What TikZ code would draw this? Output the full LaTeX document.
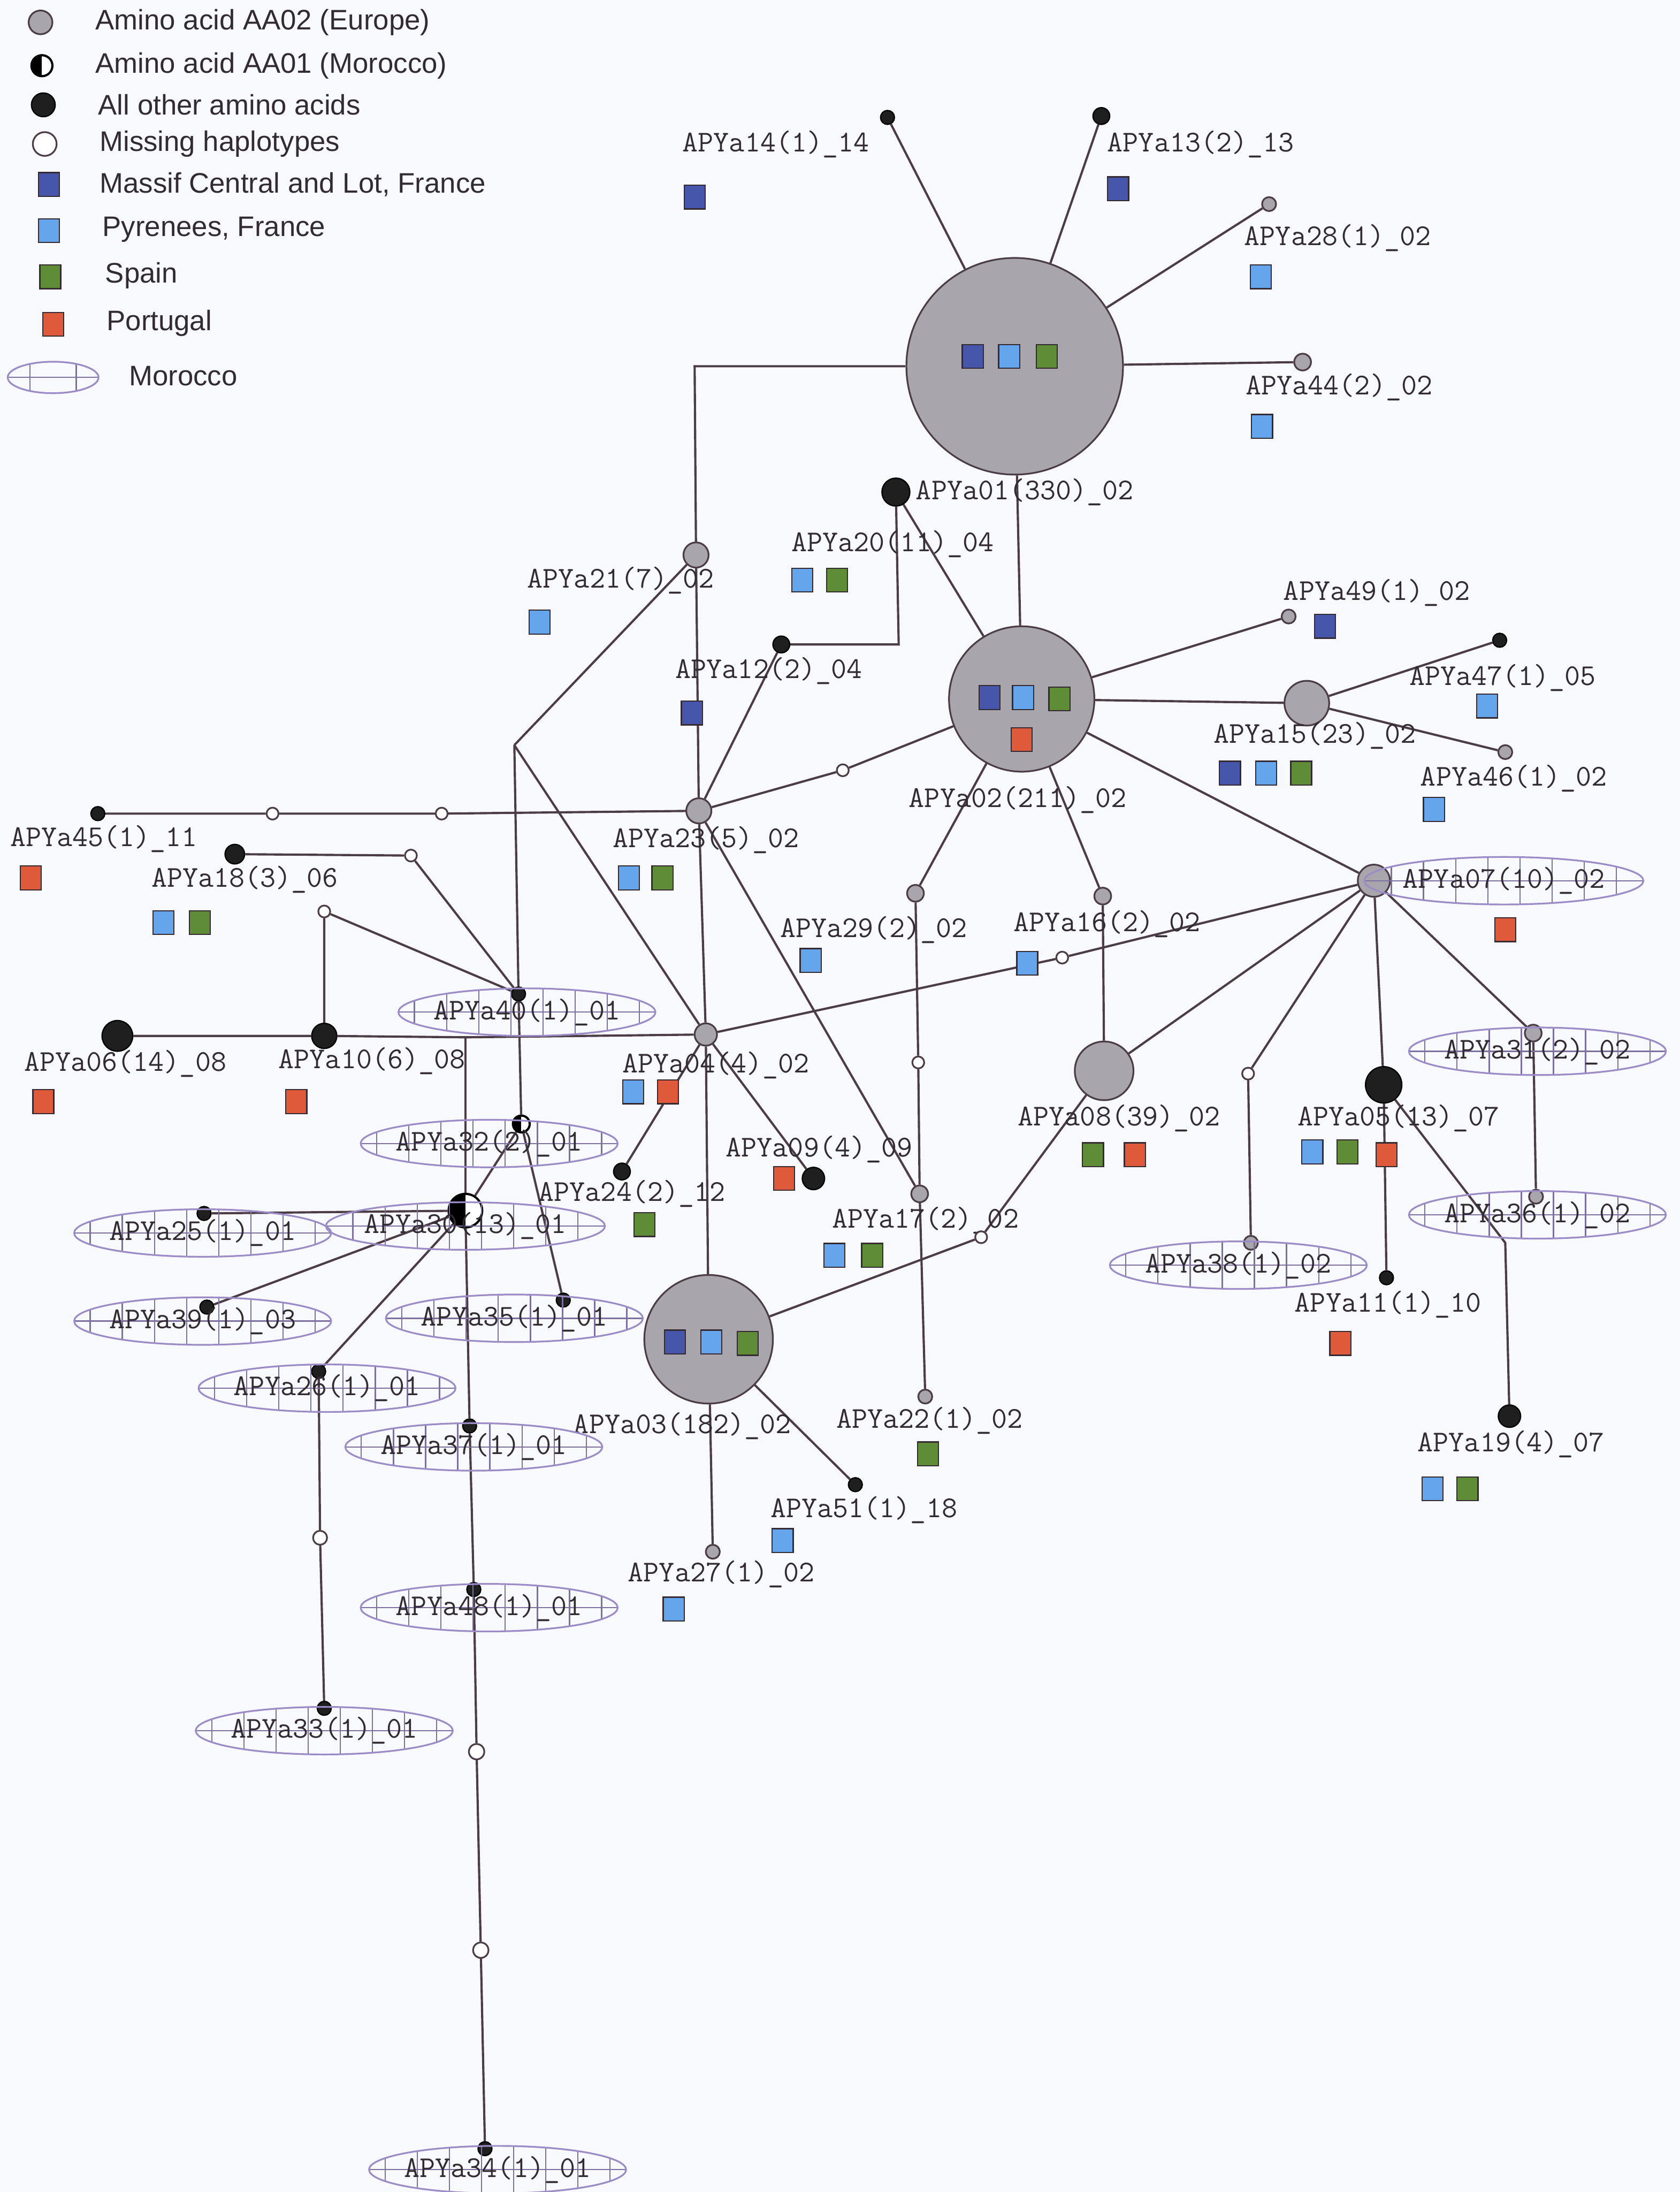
\documentclass[tikz,border=0pt]{standalone}
\usepackage{fontspec}
\setmainfont{Liberation Sans}
\usetikzlibrary{shapes.geometric,backgrounds}

\definecolor{mclc}{RGB}{70,86,170}
\definecolor{pyrc}{RGB}{100,165,235}
\definecolor{spac}{RGB}{95,140,55}
\definecolor{porc}{RGB}{222,90,58}
\definecolor{hapgrey}{RGB}{168,166,172}
\definecolor{edgec}{RGB}{75,60,70}
\definecolor{lavc}{RGB}{155,140,200}
\definecolor{bgc}{RGB}{248,249,252}
\definecolor{txtc}{RGB}{50,44,50}

\begin{document}
\begin{tikzpicture}[
    x=0.02cm,
    y=-0.02cm,
    hap/.style={
        circle,
        draw=edgec,
        fill=hapgrey,
        line width=0.7pt,
        inner sep=0pt
    },
    other/.style={
        circle,
        draw=black,
        fill=black!88,
        line width=0.5pt,
        inner sep=0pt
    },
    missing/.style={
        circle,
        draw=edgec,
        fill=white,
        line width=0.7pt,
        inner sep=0pt,
        minimum size=0.17cm
    },
    moroc/.style={
        circle,
        draw=black,
        fill=white,
        line width=0.9pt,
        inner sep=0pt,
        path picture={
            \fill[black] (path picture bounding box.south west)
                rectangle (path picture bounding box.north);
        }
    },
    region/.style={
        rectangle,
        draw=edgec!70!black,
        line width=0.5pt,
        minimum width=0.3cm,
        minimum height=0.34cm,
        inner sep=0pt
    },
    mcl/.style={region, fill=mclc},
    pyr/.style={region, fill=pyrc},
    spa/.style={region, fill=spac},
    por/.style={region, fill=porc},
    lbl/.style={
        font=\ttfamily\fontsize{12.3}{14}\selectfont,
        text=txtc,
        anchor=west,
        inner sep=0pt
    },
    morocco/.style={
        ellipse,
        draw=lavc,
        line width=0.7pt,
        font=\ttfamily\fontsize{12.3}{14}\selectfont,
        text=txtc,
        inner xsep=-1pt,
        inner ysep=0pt,
        minimum height=0.68cm,
        path picture={
            \foreach \k in {-6,...,5}
                \draw[lavc!80!black, line width=0.5pt]
                    ([xshift=\k*#1+0.5*#1]path picture bounding box.south) --
                    ([xshift=\k*#1+0.5*#1]path picture bounding box.north);
            \draw[lavc!80!black, line width=0.5pt]
                (path picture bounding box.west) --
                (path picture bounding box.east);
        }
    },
    morocco/.default=0.46cm,
    key/.style={
        font=\fontsize{11.5}{13}\selectfont,
        text=txtc,
        anchor=west,
        inner sep=0pt
    },
    edge/.style={
        draw=edgec,
        line width=0.9pt
    }
]

\useasboundingbox (0,0) rectangle (1202,1568);

\node[hap, minimum size=0.34cm] (keyeu) at (29,16) {};
\node[key] (keyeutxt) at (68,16) {Amino acid AA02 (Europe)};
\node[moroc, minimum size=0.3cm] (keyma) at (30,47) {};
\node[key] (keymatxt) at (68,47) {Amino acid AA01 (Morocco)};
\node[other, minimum size=0.34cm] (keyot) at (31,75) {};
\node[key] (keyottxt) at (70,75) {All other amino acids};
\node[missing, minimum size=0.34cm] (keymi) at (32,103) {};
\node[key] (keymitxt) at (71,103) {Missing haplotypes};
\node[mcl] (keymc) at (35,132) {};
\node[key] (keymctxt) at (71,132) {Massif Central and Lot, France};
\node[pyr] (keypy) at (35,165) {};
\node[key] (keypytxt) at (73,164) {Pyrenees, France};
\node[spa] (keysp) at (36,198) {};
\node[key] (keysptxt) at (75,197) {Spain};
\node[por] (keypo) at (38,232) {};
\node[key] (keypotxt) at (76,231) {Portugal};
\node[morocco=0.66cm, minimum width=1.3cm, minimum height=0.45cm] (keymo) at (38,270) {};
\node[key] (keymotxt) at (92,269) {Morocco};

\node[other, minimum size=0.2cm] (apya14) at (635,84) {};
\node[lbl] (lab14) at (488,103) {APYa14(1)\_14};
\node[mcl] (sq14a) at (497,141) {};

\node[other, minimum size=0.24cm] (apya13) at (788,83) {};
\node[lbl] (lab13) at (792,103) {APYa13(2)\_13};
\node[mcl] (sq13a) at (800,135) {};

\node[hap, minimum size=0.2cm] (apya28) at (908,146) {};
\node[lbl] (lab28) at (890,170) {APYa28(1)\_02};
\node[pyr] (sq28a) at (902,198) {};

\node[hap, minimum size=0.24cm] (apya44) at (932,259) {};
\node[lbl] (lab44) at (891,277) {APYa44(2)\_02};
\node[pyr] (sq44a) at (903,305) {};

\node[hap, minimum size=3.1cm] (apya01) at (726,262) {};
\node[lbl] (lab01) at (655,352) {APYa01(330)\_02};
\node[mcl] (sq01a) at (696,255) {};
\node[pyr] (sq01b) at (722,255) {};
\node[spa] (sq01c) at (749,255) {};

\node[other, minimum size=0.4cm] (apya20) at (641,352) {};
\node[lbl] (lab20) at (566,389) {APYa20(11)\_04};
\node[pyr] (sq20a) at (574,415) {};
\node[spa] (sq20b) at (599,415) {};

\node[hap, minimum size=0.36cm] (apya21) at (498,397) {};
\node[lbl] (lab21) at (377,415) {APYa21(7)\_02};
\node[pyr] (sq21a) at (386,445) {};

\node[other, minimum size=0.24cm] (apya12) at (559,461) {};
\node[lbl] (lab12) at (483,480) {APYa12(2)\_04};
\node[mcl] (sq12a) at (495,510) {};

\node[hap, minimum size=0.2cm] (apya49) at (922,441) {};
\node[lbl] (lab49) at (918,424) {APYa49(1)\_02};
\node[mcl] (sq49a) at (948,448) {};

\node[other, minimum size=0.2cm] (apya47) at (1073,458) {};
\node[lbl] (lab47) at (1008,485) {APYa47(1)\_05};
\node[pyr] (sq47a) at (1064,505) {};

\node[hap, minimum size=0.64cm] (apya15) at (935,503) {};
\node[lbl] (lab15) at (868,526) {APYa15(23)\_02};
\node[mcl] (sq15a) at (880,553) {};
\node[pyr] (sq15b) at (906,553) {};
\node[spa] (sq15c) at (931,553) {};

\node[hap, minimum size=0.2cm] (apya46) at (1077,538) {};
\node[lbl] (lab46) at (1016,557) {APYa46(1)\_02};
\node[pyr] (sq46a) at (1026,579) {};

\node[hap, minimum size=2.08cm] (apya02) at (731,500) {};
\node[lbl] (lab02) at (650,572) {APYa02(211)\_02};
\node[mcl] (sq02a) at (708,499) {};
\node[pyr] (sq02b) at (732,499) {};
\node[spa] (sq02c) at (758,500) {};
\node[por] (sq02d) at (731,529) {};

\node[other, minimum size=0.2cm] (apya45) at (70,582) {};
\node[lbl] (lab45) at (7,600) {APYa45(1)\_11};
\node[por] (sq45a) at (22,628) {};

\node[hap, minimum size=0.36cm] (apya23) at (500,580) {};
\node[lbl] (lab23) at (438,601) {APYa23(5)\_02};
\node[pyr] (sq23a) at (450,628) {};
\node[spa] (sq23b) at (474,628) {};

\node[other, minimum size=0.28cm] (apya18) at (168,611) {};
\node[lbl] (lab18) at (108,629) {APYa18(3)\_06};
\node[pyr] (sq18a) at (117,660) {};
\node[spa] (sq18b) at (143,660) {};

\node[hap, minimum size=0.46cm] (apya07) at (983,630) {};
\node[morocco] (lab07) at (1076,630) {APYa07(10)\_02};
\node[por] (sq07a) at (1077,665) {};

\node[hap, minimum size=0.24cm] (apya29) at (655,639) {};
\node[lbl] (lab29) at (558,665) {APYa29(2)\_02};
\node[pyr] (sq29a) at (580,687) {};

\node[hap, minimum size=0.24cm] (apya16) at (789,641) {};
\node[lbl] (lab16) at (725,661) {APYa16(2)\_02};
\node[pyr] (sq16a) at (735,689) {};

\node[other, minimum size=0.2cm] (apya40) at (371,711) {};
\node[morocco] (lab40) at (377,724) {APYa40(1)\_01};

\node[other, minimum size=0.44cm] (apya06) at (84,741) {};
\node[lbl] (lab06) at (17,761) {APYa06(14)\_08};
\node[por] (sq06a) at (31,788) {};

\node[other, minimum size=0.36cm] (apya10) at (232,741) {};
\node[lbl] (lab10) at (199,759) {APYa10(6)\_08};
\node[por] (sq10a) at (212,788) {};

\node[hap, minimum size=0.32cm] (apya04) at (505,740) {};
\node[lbl] (lab04) at (445,762) {APYa04(4)\_02};
\node[pyr] (sq04a) at (453,781) {};
\node[por] (sq04b) at (478,781) {};

\node[hap, minimum size=0.24cm] (apya31) at (1097,739) {};
\node[morocco] (lab31) at (1100,752) {APYa31(2)\_02};

\node[hap, minimum size=0.84cm] (apya08) at (790,766) {};
\node[lbl] (lab08) at (728,800) {APYa08(39)\_02};
\node[spa] (sq08a) at (782,826) {};
\node[por] (sq08b) at (812,826) {};

\node[other, minimum size=0.52cm] (apya05) at (990,776) {};
\node[lbl] (lab05) at (928,800) {APYa05(13)\_07};
\node[pyr] (sq05a) at (939,824) {};
\node[spa] (sq05b) at (964,824) {};
\node[por] (sq05c) at (992,826) {};

\node[moroc, minimum size=0.24cm] (apya32) at (373,804) {};
\node[morocco] (lab32) at (350,818) {APYa32(2)\_01};

\node[other, minimum size=0.32cm] (apya09) at (582,843) {};
\node[lbl] (lab09) at (519,822) {APYa09(4)\_09};
\node[por] (sq09a) at (561,843) {};

\node[other, minimum size=0.24cm] (apya24) at (445,838) {};
\node[lbl] (lab24) at (385,854) {APYa24(2)\_12};
\node[spa] (sq24a) at (461,876) {};

\node[hap, minimum size=0.24cm] (apya17) at (658,854) {};
\node[lbl] (lab17) at (595,873) {APYa17(2)\_02};
\node[pyr] (sq17a) at (597,898) {};
\node[spa] (sq17b) at (624,898) {};

\node[hap, minimum size=0.2cm] (apya36) at (1099,856) {};
\node[morocco] (lab36) at (1100,869) {APYa36(1)\_02};

\node[moroc, minimum size=0.48cm] (apya30) at (333,866) {};
\node[morocco] (lab30) at (333,877) {APYa30(13)\_01};

\node[other, minimum size=0.2cm] (apya25) at (146,868) {};
\node[morocco] (lab25) at (145,882) {APYa25(1)\_01};

\node[hap, minimum size=0.2cm] (apya38) at (895,889) {};
\node[morocco] (lab38) at (886,905) {APYa38(1)\_02};

\node[other, minimum size=0.2cm] (apya11) at (992,914) {};
\node[lbl] (lab11) at (926,933) {APYa11(1)\_10};
\node[por] (sq11a) at (959,961) {};

\node[other, minimum size=0.2cm] (apya39) at (148,935) {};
\node[morocco] (lab39) at (145,945) {APYa39(1)\_03};

\node[other, minimum size=0.2cm] (apya35) at (403,930) {};
\node[morocco] (lab35) at (368,943) {APYa35(1)\_01};

\node[hap, minimum size=1.84cm] (apya03) at (507,958) {};
\node[lbl] (lab03) at (410,1020) {APYa03(182)\_02};
\node[mcl] (sq03a) at (483,960) {};
\node[pyr] (sq03b) at (509,960) {};
\node[spa] (sq03c) at (535,961) {};

\node[other, minimum size=0.2cm] (apya26) at (228,981) {};
\node[morocco] (lab26) at (234,993) {APYa26(1)\_01};

\node[hap, minimum size=0.2cm] (apya22) at (662,999) {};
\node[lbl] (lab22) at (598,1016) {APYa22(1)\_02};
\node[spa] (sq22a) at (664,1040) {};

\node[other, minimum size=0.32cm] (apya19) at (1080,1013) {};
\node[lbl] (lab19) at (1014,1033) {APYa19(4)\_07};
\node[pyr] (sq19a) at (1025,1065) {};
\node[spa] (sq19b) at (1050,1065) {};

\node[other, minimum size=0.2cm] (apya37) at (336,1020) {};
\node[morocco] (lab37) at (339,1035) {APYa37(1)\_01};

\node[other, minimum size=0.2cm] (apya51) at (612,1062) {};
\node[lbl] (lab51) at (551,1080) {APYa51(1)\_18};
\node[pyr] (sq51a) at (560,1102) {};

\node[hap, minimum size=0.2cm] (apya27) at (510,1110) {};
\node[lbl] (lab27) at (449,1126) {APYa27(1)\_02};
\node[pyr] (sq27a) at (482,1151) {};

\node[other, minimum size=0.2cm] (apya48) at (339,1137) {};
\node[morocco] (lab48) at (350,1150) {APYa48(1)\_01};

\node[other, minimum size=0.2cm] (apya33) at (232,1222) {};
\node[morocco] (lab33) at (232,1238) {APYa33(1)\_01};

\node[other, minimum size=0.2cm] (apya34) at (347,1537) {};
\node[morocco] (lab34) at (356,1552) {APYa34(1)\_01};

\node[missing] (miss1) at (603,551) {};
\node[missing] (miss2) at (316,582) {};
\node[missing] (miss3) at (195,582) {};
\node[missing] (miss4) at (294,612) {};
\node[missing] (miss5) at (232,652) {};
\node[missing] (miss6) at (760,685) {};
\node[missing] (miss7) at (657,760) {};
\node[missing] (miss8) at (702,885) {};
\node[missing] (miss9) at (893,768) {};
\node[missing, minimum size=0.2cm] (miss10) at (229,1100) {};
\node[missing, minimum size=0.22cm] (miss11) at (341,1253) {};
\node[missing, minimum size=0.22cm] (miss12) at (344,1395) {};

\coordinate (bend1) at (497,262);
\coordinate (bend2) at (643,461);
\coordinate (bend3) at (368,533);
\coordinate (bend4) at (333,742);
\coordinate (bend5) at (1077,889);

\begin{scope}[on background layer]
\fill[bgc] (0,0) rectangle (1202,1568);

\draw[edge] (apya14) -- (apya01);
\draw[edge] (apya13) -- (apya01);
\draw[edge] (apya28) -- (apya01);
\draw[edge] (apya44) -- (apya01);
\draw[edge] (apya01) -- (bend1) -- (apya21);
\draw[edge] (apya01) -- (apya02);
\draw[edge] (apya20) -- (apya02);
\draw[edge] (apya20) -- (bend2) -- (apya12);
\draw[edge] (apya12) -- (apya23);
\draw[edge] (apya21) -- (apya23);
\draw[edge] (apya23) -- (miss1) -- (apya02);
\draw[edge] (apya23) -- (miss2) -- (miss3) -- (apya45);
\draw[edge] (apya23) -- (apya04);
\draw[edge] (apya23) -- (apya17);
\draw[edge] (apya21) -- (bend3);
\draw[edge] (bend3) -- (apya04);
\draw[edge] (bend3) -- (apya40) -- (apya32);
\draw[edge] (apya18) -- (miss4) -- (apya40);
\draw[edge] (apya10) -- (miss5) -- (apya40);
\draw[edge] (apya06) -- (apya10) -- (bend4) -- (apya04);
\draw[edge] (bend4) -- (apya30);
\draw[edge] (apya30) -- (apya32);
\draw[edge] (apya32) -- (apya35);
\draw[edge] (apya30) -- (apya25);
\draw[edge] (apya30) -- (apya39);
\draw[edge] (apya30) -- (apya26);
\draw[edge] (apya26) -- (miss10) -- (apya33);
\draw[edge] (apya30) -- (apya37) -- (apya48) -- (miss11) -- (miss12) -- (apya34);
\draw[edge] (apya04) -- (apya03);
\draw[edge] (apya04) -- (apya09);
\draw[edge] (apya04) -- (apya24);
\draw[edge] (apya04) -- (miss6) -- (apya07);
\draw[edge] (apya02) -- (apya49);
\draw[edge] (apya02) -- (apya15);
\draw[edge] (apya15) -- (apya47);
\draw[edge] (apya15) -- (apya46);
\draw[edge] (apya02) -- (apya07);
\draw[edge] (apya02) -- (apya29);
\draw[edge] (apya02) -- (apya16);
\draw[edge] (apya29) -- (miss7) -- (apya17) -- (apya22);
\draw[edge] (apya16) -- (apya08);
\draw[edge] (apya08) -- (apya07);
\draw[edge] (apya08) -- (miss8) -- (apya03);
\draw[edge] (apya03) -- (apya51);
\draw[edge] (apya03) -- (apya27);
\draw[edge] (apya07) -- (miss9) -- (apya38);
\draw[edge] (apya07) -- (apya05);
\draw[edge] (apya07) -- (apya31) -- (apya36);
\draw[edge] (apya05) -- (apya11);
\draw[edge] (apya05) -- (bend5) -- (apya19);
\end{scope}

\end{tikzpicture}
\end{document}
